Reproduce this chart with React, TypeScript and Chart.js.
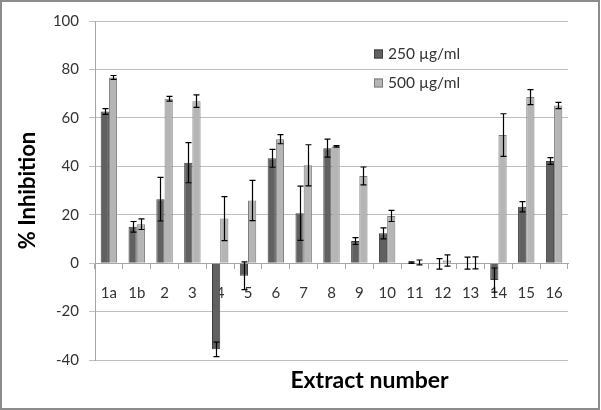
import React, { useEffect, useRef } from 'react';
import { Chart, registerables } from 'chart.js';

Chart.register(...registerables);

const categories = ['1a', '1b', '2', '3', '4', '5', '6', '7', '8', '9', '10', '11', '12', '13', '14', '15', '16'];
const seriesLabels = ['250 µg/ml', '500 µg/ml'];
const values250 = [62.6, 15.0, 26.4, 41.5, -35.6, -5.2, 43.3, 20.6, 47.5, 9.1, 12.3, 0.2, -0.3, 0.0, -7.0, 23.3, 42.2];
const errors250 = [1.2, 2.2, 9.0, 8.3, 3.0, 5.7, 3.7, 11.2, 3.7, 1.4, 2.3, 0.3, 2.2, 2.5, 5.0, 2.1, 1.4];
const values500 = [76.7, 16.1, 67.9, 66.9, 18.4, 25.9, 51.2, 40.4, 48.2, 36.0, 19.5, 0.3, 1.1, 0.1, 52.9, 68.6, 65.1];
const errors500 = [0.8, 2.2, 1.0, 2.6, 9.1, 8.3, 1.9, 8.5, 0.3, 3.7, 2.3, 1.0, 2.3, 2.5, 8.8, 3.1, 1.3];
const yTicks = { min: -40, max: 100, step: 20 };
const yTitle = '% Inhibition';
const xTitle = 'Extract number';

const FONT = 'Lato, "Open Sans", sans-serif';
const errorsBySeries = [errors250, errors500];

const errorBarPlugin = {
  id: 'errorBars',
  afterDatasetsDraw(chart: any) {
    const { ctx } = chart;
    const yScale = chart.scales.y;
    ctx.save();
    ctx.strokeStyle = '#000';
    ctx.lineWidth = 1.2;
    chart.data.datasets.forEach((ds: any, di: number) => {
      const meta = chart.getDatasetMeta(di);
      meta.data.forEach((bar: any, i: number) => {
        const v = ds.data[i];
        const e = errorsBySeries[di][i];
        const x = Math.round(bar.x) + 0.5;
        const yTop = yScale.getPixelForValue(v + e);
        const yBot = yScale.getPixelForValue(v - e);
        const cap = 3;
        ctx.beginPath();
        ctx.moveTo(x, yTop);
        ctx.lineTo(x, yBot);
        ctx.moveTo(x - cap, yTop);
        ctx.lineTo(x + cap, yTop);
        ctx.moveTo(x - cap, yBot);
        ctx.lineTo(x + cap, yBot);
        ctx.stroke();
      });
    });
    ctx.restore();
  },
};

const decorPlugin = {
  id: 'decor',
  beforeDraw(chart: any) {
    const { ctx, width, height } = chart;
    ctx.save();
    ctx.fillStyle = '#fff';
    ctx.fillRect(0, 0, width, height);
    ctx.restore();
  },
  afterDraw(chart: any) {
    const { ctx, width, height, chartArea } = chart;
    ctx.save();
    // legend
    const lx = 374;
    const ly = [54, 83];
    chart.data.datasets.forEach((ds: any, i: number) => {
      ctx.fillStyle = ds.backgroundColor;
      ctx.strokeStyle = ds.borderColor;
      ctx.lineWidth = 1;
      ctx.fillRect(lx, ly[i] - 4.5, 9, 9);
      ctx.strokeRect(lx + 0.5, ly[i] - 4.5 + 0.5, 8, 8);
      ctx.fillStyle = '#333';
      ctx.font = `15.5px ${FONT}`;
      ctx.textBaseline = 'middle';
      ctx.textAlign = 'left';
      ctx.fillText(ds.label, lx + 14, ly[i]);
    });
    // x title
    ctx.fillStyle = '#000';
    ctx.font = `bold 23px ${FONT}`;
    ctx.textAlign = 'center';
    ctx.textBaseline = 'middle';
    ctx.fillText(xTitle, (chartArea.left + chartArea.right) / 2 + 38, 381);
    // frame
    ctx.strokeStyle = '#8c8c8c';
    ctx.lineWidth = 2;
    ctx.strokeRect(1, 1, width - 3, height - 2);
    ctx.restore();
  },
};

export default function App() {
  const ref = useRef<HTMLCanvasElement>(null);
  useEffect(() => {
    document.body.style.margin = '0';
    const canvas = ref.current!;
    const chart = new Chart(canvas, {
      type: 'bar',
      data: {
        labels: categories,
        datasets: [
          {
            label: seriesLabels[0],
            data: values250,
            backgroundColor: '#616161',
            borderColor: '#404040',
            borderWidth: 1,
            categoryPercentage: 0.59,
            barPercentage: 1,
          },
          {
            label: seriesLabels[1],
            data: values500,
            backgroundColor: '#b5b5b5',
            borderColor: '#7a7a7a',
            borderWidth: 1,
            categoryPercentage: 0.59,
            barPercentage: 1,
          },
        ],
      },
      options: {
        responsive: false,
        animation: false,
        devicePixelRatio: 1,
        layout: { padding: { left: 0, right: 33, top: 21, bottom: 50 } },
        plugins: {
          legend: { display: false },
          tooltip: { enabled: false },
          title: { display: false },
        },
        scales: {
          x: {
            position: { y: 0 } as any,
            offset: true,
            z: 1,
            grid: {
              offset: true,
              drawOnChartArea: false,
              drawTicks: true,
              tickLength: 5,
              color: '#a6a6a6',
            },
            border: { color: '#a6a6a6' },
            ticks: {
              padding: 16,
              color: '#333',
              font: { family: FONT, size: 15 },
              maxRotation: 0,
              autoSkip: false,
            },
          },
          y: {
            min: yTicks.min,
            max: yTicks.max,
            ticks: {
              stepSize: yTicks.step,
              padding: 10,
              color: '#333',
              font: { family: FONT, size: 15 },
            },
            grid: { color: '#bfbfbf', tickLength: 6 },
            border: { color: '#a6a6a6' },
            title: {
              display: true,
              text: yTitle,
              color: '#000',
              font: { family: FONT, size: 22, weight: 'bold' },
              padding: { top: 15, bottom: 0 },
            },
            afterFit: (s: any) => {
              s.width = 95;
            },
          },
        },
      },
      plugins: [decorPlugin, errorBarPlugin],
    });
    return () => chart.destroy();
  }, []);
  return <canvas ref={ref} width={601} height={410} style={{ display: 'block' }} />;
}
